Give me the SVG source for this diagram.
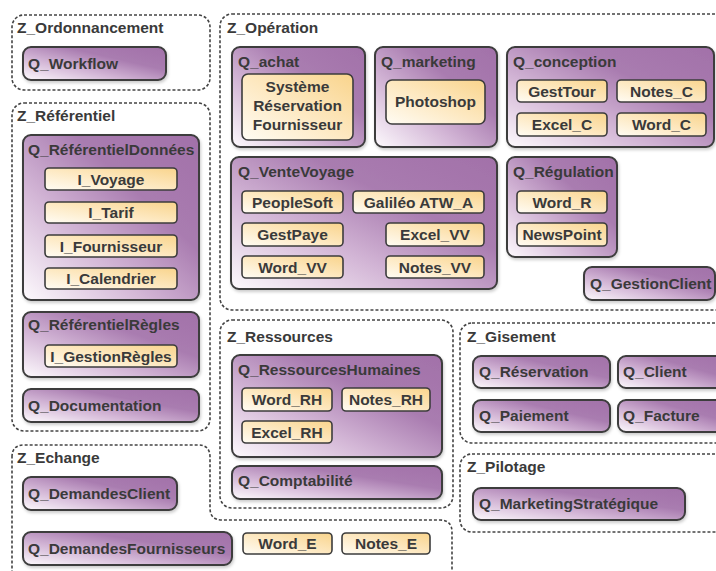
<svg xmlns="http://www.w3.org/2000/svg" width="716" height="571" viewBox="0 0 716 571">
<style>
text{font-family:"Liberation Sans",Arial,sans-serif;font-weight:bold;font-size:15.5px;fill:#3a3a3a}
.z{fill:#fff;stroke:#444;stroke-width:1.6;stroke-dasharray:3 2}
.q{fill:url(#gq);stroke:#3c3c3c;stroke-width:2;filter:url(#sh)}
.i{fill:url(#gi);stroke:#3c3c3c;stroke-width:1.6}
.c{text-anchor:middle}
</style>
<defs>
<linearGradient id="gq" x1="0" y1="1" x2="1" y2="0">
<stop offset="0" stop-color="#fdfafd"/>
<stop offset="0.35" stop-color="#d3b6d6"/>
<stop offset="0.65" stop-color="#a97cb0"/>
<stop offset="1" stop-color="#a271a9"/>
</linearGradient>
<linearGradient id="gi" x1="0" y1="1" x2="1" y2="0">
<stop offset="0" stop-color="#fffcf4"/>
<stop offset="0.5" stop-color="#fde8c0"/>
<stop offset="1" stop-color="#f9d48c"/>
</linearGradient>
<filter id="sh" x="-10%" y="-10%" width="120%" height="130%">
<feDropShadow dx="1" dy="2" stdDeviation="1.5" flood-color="#000" flood-opacity="0.2"/>
</filter>
</defs>
<rect width="716" height="571" fill="#fff"/>
<g id="zones">
<g id="Z_Ordonnancement"><rect class="z" x="12" y="15" width="198" height="75" rx="12"/><text x="17" y="33">Z_Ordonnancement</text></g>
<g id="Z_Referentiel"><rect class="z" x="12" y="103" width="198" height="328" rx="12"/><text x="17" y="121">Z_Référentiel</text></g>
<g id="Z_Echange"><path class="z" d="M12,457 Q12,445 24,445 H198 Q210,445 210,457 V508 Q210,520 222,520 H440 Q452,520 452,532 V590 H12 Z"/><text x="17" y="463">Z_Echange</text></g>
<g id="Z_Operation"><rect class="z" x="220" y="14" width="520" height="296" rx="12"/><text x="227" y="33">Z_Opération</text></g>
<g id="Z_Ressources"><rect class="z" x="220" y="320" width="233" height="188" rx="12"/><text x="227" y="342">Z_Ressources</text></g>
<g id="Z_Gisement"><rect class="z" x="460" y="323" width="280" height="120" rx="12"/><text x="467" y="342">Z_Gisement</text></g>
<g id="Z_Pilotage"><rect class="z" x="460" y="454" width="280" height="78" rx="12"/><text x="467" y="472">Z_Pilotage</text></g>
</g>
<g id="Q_Workflow"><rect class="q" x="23" y="47" width="143" height="33" rx="8"/><text x="28" y="69">Q_Workflow</text></g>
<g id="Q_ReferentielDonnees"><rect class="q" x="23" y="135" width="176" height="165" rx="8"/><text x="28" y="155">Q_RéférentielDonnées</text></g>
<g id="I_Voyage"><rect class="i" x="45" y="168" width="132" height="22" rx="4"/><text class="c" x="111" y="184.5">I_Voyage</text></g>
<g id="I_Tarif"><rect class="i" x="45" y="202" width="132" height="21" rx="4"/><text class="c" x="111" y="218">I_Tarif</text></g>
<g id="I_Fournisseur"><rect class="i" x="45" y="235" width="132" height="22" rx="4"/><text class="c" x="111" y="251.5">I_Fournisseur</text></g>
<g id="I_Calendrier"><rect class="i" x="45" y="268" width="132" height="21" rx="4"/><text class="c" x="111" y="284">I_Calendrier</text></g>
<g id="Q_ReferentielRegles"><rect class="q" x="23" y="312" width="176" height="65" rx="8"/><text x="28" y="330">Q_RéférentielRègles</text></g>
<g id="I_GestionRegles"><rect class="i" x="45" y="345" width="132" height="22" rx="4"/><text class="c" x="111" y="361.5">I_GestionRègles</text></g>
<g id="Q_Documentation"><rect class="q" x="23" y="389" width="176" height="33" rx="8"/><text x="28" y="411">Q_Documentation</text></g>
<g id="Q_DemandesClient"><rect class="q" x="23" y="477" width="154" height="33" rx="8"/><text x="28" y="499">Q_DemandesClient</text></g>
<g id="Q_DemandesFournisseurs"><rect class="q" x="23" y="532" width="209" height="33" rx="8"/><text x="28" y="554">Q_DemandesFournisseurs</text></g>
<g id="Word_E"><rect class="i" x="243" y="533" width="89" height="21" rx="4"/><text class="c" x="287.5" y="549">Word_E</text></g>
<g id="Notes_E"><rect class="i" x="342" y="533" width="88" height="21" rx="4"/><text class="c" x="386" y="549">Notes_E</text></g>
<g id="Q_achat"><rect class="q" x="232" y="47" width="133" height="100" rx="8"/><text x="238" y="67">Q_achat</text></g>
<g id="SystemeReservationFournisseur"><rect class="i" x="242" y="74" width="111" height="66" rx="6"/><text class="c" x="297.5" y="92">Système</text><text class="c" x="297.5" y="111">Réservation</text><text class="c" x="297.5" y="130">Fournisseur</text></g>
<g id="Q_marketing"><rect class="q" x="375" y="47" width="122" height="100" rx="8"/><text x="381" y="67">Q_marketing</text></g>
<g id="Photoshop"><rect class="i" x="386" y="80" width="99" height="44" rx="6"/><text class="c" x="435.5" y="107">Photoshop</text></g>
<g id="Q_conception"><rect class="q" x="507" y="47" width="207" height="100" rx="8"/><text x="513" y="67">Q_conception</text></g>
<g id="GestTour"><rect class="i" x="517" y="80" width="90" height="22" rx="4"/><text class="c" x="562" y="96.5">GestTour</text></g>
<g id="Notes_C"><rect class="i" x="617" y="80" width="89" height="22" rx="4"/><text class="c" x="661.5" y="96.5">Notes_C</text></g>
<g id="Excel_C"><rect class="i" x="517" y="113" width="90" height="23" rx="4"/><text class="c" x="562" y="130">Excel_C</text></g>
<g id="Word_C"><rect class="i" x="617" y="113" width="89" height="23" rx="4"/><text class="c" x="661.5" y="130">Word_C</text></g>
<g id="Q_VenteVoyage"><rect class="q" x="231" y="157" width="266" height="132" rx="8"/><text x="238" y="177">Q_VenteVoyage</text></g>
<g id="PeopleSoft"><rect class="i" x="242" y="191" width="101" height="22" rx="4"/><text class="c" x="292.5" y="207.5">PeopleSoft</text></g>
<g id="GalileoATW_A"><rect class="i" x="353" y="191" width="131" height="22" rx="4"/><text class="c" x="418.5" y="207.5">Galiléo ATW_A</text></g>
<g id="GestPaye"><rect class="i" x="242" y="223" width="101" height="23" rx="4"/><text class="c" x="292.5" y="240">GestPaye</text></g>
<g id="Excel_VV"><rect class="i" x="386" y="223" width="98" height="23" rx="4"/><text class="c" x="435" y="240">Excel_VV</text></g>
<g id="Word_VV"><rect class="i" x="242" y="256" width="101" height="22" rx="4"/><text class="c" x="292.5" y="272.5">Word_VV</text></g>
<g id="Notes_VV"><rect class="i" x="386" y="256" width="98" height="22" rx="4"/><text class="c" x="435" y="272.5">Notes_VV</text></g>
<g id="Q_Regulation"><rect class="q" x="507" y="157" width="110" height="100" rx="8"/><text x="513" y="177">Q_Régulation</text></g>
<g id="Word_R"><rect class="i" x="517" y="191" width="90" height="22" rx="4"/><text class="c" x="562" y="207.5">Word_R</text></g>
<g id="NewsPoint"><rect class="i" x="517" y="223" width="90" height="23" rx="4"/><text class="c" x="562" y="240">NewsPoint</text></g>
<g id="Q_GestionClient"><rect class="q" x="584" y="267" width="131" height="33" rx="8"/><text x="590" y="289">Q_GestionClient</text></g>
<g id="Q_RessourcesHumaines"><rect class="q" x="232" y="355" width="210" height="102" rx="8"/><text x="238" y="375">Q_RessourcesHumaines</text></g>
<g id="Word_RH"><rect class="i" x="242" y="388" width="90" height="23" rx="4"/><text class="c" x="287" y="405">Word_RH</text></g>
<g id="Notes_RH"><rect class="i" x="342" y="388" width="88" height="23" rx="4"/><text class="c" x="386" y="405">Notes_RH</text></g>
<g id="Excel_RH"><rect class="i" x="242" y="421" width="90" height="22" rx="4"/><text class="c" x="287" y="437.5">Excel_RH</text></g>
<g id="Q_Comptabilite"><rect class="q" x="232" y="466" width="210" height="33" rx="8"/><text x="238" y="486">Q_Comptabilité</text></g>
<g id="Q_Reservation"><rect class="q" x="473" y="356" width="137" height="32" rx="8"/><text x="479" y="377">Q_Réservation</text></g>
<g id="Q_Client"><rect class="q" x="618" y="356" width="112" height="32" rx="8"/><text x="623" y="377">Q_Client</text></g>
<g id="Q_Paiement"><rect class="q" x="473" y="400" width="137" height="32" rx="8"/><text x="479" y="421">Q_Paiement</text></g>
<g id="Q_Facture"><rect class="q" x="618" y="400" width="112" height="32" rx="8"/><text x="623" y="421">Q_Facture</text></g>
<g id="Q_MarketingStrategique"><rect class="q" x="473" y="488" width="212" height="32" rx="8"/><text x="479" y="509">Q_MarketingStratégique</text></g>
<g id="connectors"></g>
</svg>
